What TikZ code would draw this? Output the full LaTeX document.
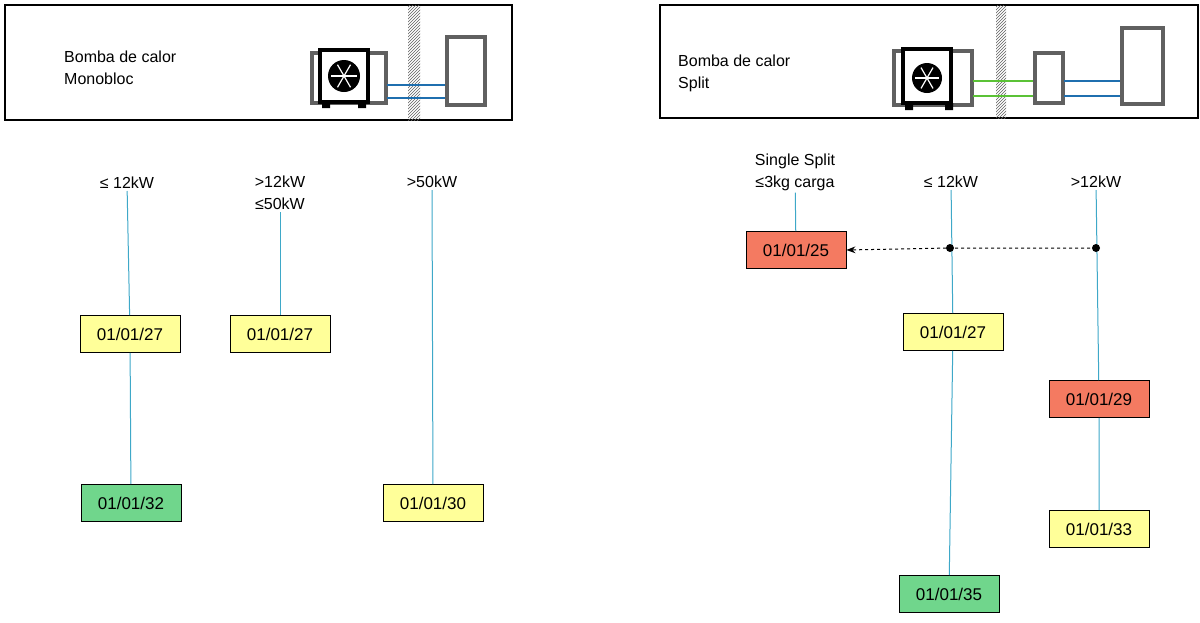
\documentclass[tikz,border=0pt]{standalone}
\usepackage{fontspec}
\setmainfont{Liberation Sans}
\usetikzlibrary{patterns,arrows.meta}
\definecolor{fechaAm}{HTML}{FFFF99}
\definecolor{fechaVe}{HTML}{70D68C}
\definecolor{fechaRo}{HTML}{F47A61}
\definecolor{linea}{HTML}{3EA8C8}
\definecolor{tubo}{HTML}{1F6FAF}
\definecolor{tuboV}{HTML}{5BC236}
\definecolor{gris}{HTML}{606060}
\tikzset{
  fecha/.style={draw=black,line width=0.8pt,minimum width=100pt,minimum height=37pt,inner sep=2pt,font=\fontsize{17}{20}\selectfont},
  etiqueta/.style={font=\fontsize{16}{22}\selectfont,align=center,inner sep=2pt},
  rama/.style={linea,line width=1pt},
}
\begin{document}
\begin{tikzpicture}[x=1pt,y=-1pt]
            \useasboundingbox (0,0) rectangle (1200,622);
            % cajas superiores
            \draw[line width=1.2pt] (5,5) rectangle (512,120);
            \draw[line width=1.2pt] (660,5) rectangle (1198,118);
            \node[etiqueta,anchor=west,align=left] (mono) at (62,68) {Bomba de calor\\Monobloc};
            \node[etiqueta,anchor=west,align=left] (split) at (676,73) {Bomba de calor\\Split};

            % monobloc
            \fill[pattern=north east lines,pattern color=gris] (408,5) rectangle (420,120);
            \draw[gris,line width=3.5pt] (312,53) rectangle (386,103);
            \draw[line width=3.5pt,fill=white] (320,50) rectangle (368,102);
            \fill (322,102) rectangle (330,108) (358,102) rectangle (366,108);
            \fill (344,76) circle (16);
            \foreach \a in {0,60,...,300}
              \draw[white,line width=1.2pt] (344,76) -- +(\a:13);
            \draw[tubo,line width=2.5pt] (387,85) -- (447,85) (387,98) -- (447,98);
            \draw[gris,line width=4pt] (447,37) rectangle (485,105);

            % split
            \fill[pattern=north east lines,pattern color=gris] (996,5) rectangle (1006,118);
            \draw[gris,line width=3.5pt] (894,51) rectangle (972,105);
            \draw[line width=3.5pt,fill=white] (903,49) rectangle (951,103);
            \fill (905,103) rectangle (913,110) (953,103) rectangle (945,110);
            \fill (927,78) circle (15);
            \foreach \a in {0,60,...,300}
              \draw[white,line width=1.2pt] (927,78) -- +(\a:12);
            \draw[tuboV,line width=2.5pt] (973,81) -- (1035,81) (973,96) -- (1035,96);
            \draw[gris,line width=3.5pt] (1035,53) rectangle (1063,103);
            \draw[tubo,line width=2.5pt] (1064,81) -- (1122,81) (1064,96) -- (1122,96);
            \draw[gris,line width=4pt] (1122,28) rectangle (1163,104);

            % monobloc columnas
            \node[etiqueta] (m1) at (127,183) {≤ 12kW};
            \node[etiqueta] (m2) at (280,193) {>12kW\\≤50kW};
            \node[etiqueta] (m3) at (432,182) {>50kW};
            \node[fecha,fill=fechaAm] (m1a) at (130,334) {01/01/27};
            \node[fecha,fill=fechaVe] (m1b) at (131,503) {01/01/32};
            \node[fecha,fill=fechaAm] (m2a) at (280,334) {01/01/27};
            \node[fecha,fill=fechaAm] (m3a) at (433,503) {01/01/30};
            \draw[rama] (m1) -- (m1a) -- (m1b);
            \draw[rama] (m2) -- (m2a);
            \draw[rama] (m3) -- (m3a);

            % split columnas
            \node[etiqueta] (s1) at (795,172) {Single Split\\≤3kg carga};
            \node[etiqueta] (s2) at (951,182) {≤ 12kW};
            \node[etiqueta] (s3) at (1096,182) {>12kW};
            \node[fecha,fill=fechaRo] (s1a) at (796,250) {01/01/25};
            \node[fecha,fill=fechaAm] (s2a) at (953,332) {01/01/27};
            \node[fecha,fill=fechaVe] (s2b) at (949,594) {01/01/35};
            \node[fecha,fill=fechaRo] (s3a) at (1099,399) {01/01/29};
            \node[fecha,fill=fechaAm] (s3b) at (1099,529) {01/01/33};
            \draw[rama] (s1) -- (s1a);
            \draw[rama] (s2) -- (s2a) -- (s2b);
            \draw[rama] (s3) -- (s3a) -- (s3b);

            \coordinate (d2) at (950,248);
            \coordinate (d3) at (1096,248);
            \draw[dashed,line width=1pt,-{Stealth[length=9pt]}] (d3) -- (d2) -- (s1a.east);
            \fill (d2) circle (4) (d3) circle (4);
        \end{tikzpicture}
\end{document}
